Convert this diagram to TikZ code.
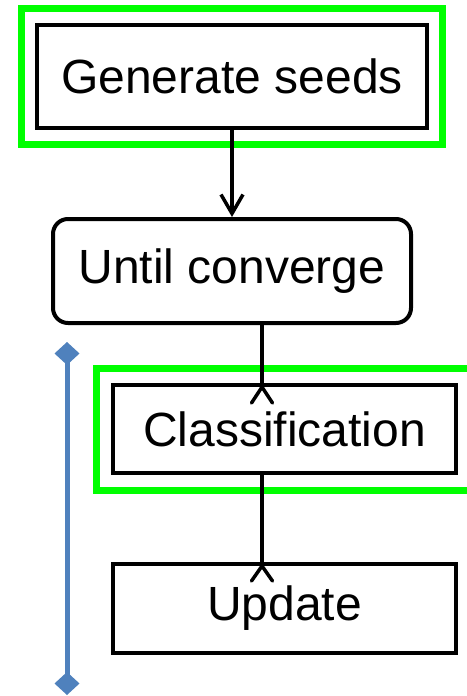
\documentclass[tikz,border=0pt]{standalone}
\usepackage{fontspec}
\setmainfont{Liberation Sans}
\usetikzlibrary{arrows, arrows.meta}
\usetikzlibrary{calc}

\definecolor{framegreen}{RGB}{0,255,0}
\definecolor{loopblue}{RGB}{79,129,189}

\tikzset{
  stepbox/.style={rectangle, draw, line width=4pt, inner sep=0pt,
    font=\fontsize{48}{54}\selectfont},
  greenframe/.style={rectangle, draw=framegreen, line width=7pt, inner sep=0pt},
  link/.style={line width=3.5pt},
  barb/.style={line width=3.5pt, line cap=round, line join=miter}
}

\begin{document}
\begin{tikzpicture}[x=1pt, y=-1pt]
    \useasboundingbox (0,0) rectangle (466,696);

    \node[greenframe, minimum width=421pt, minimum height=136pt] (genframe) at (232,76.5) {};
    \node[stepbox, minimum width=390pt, minimum height=103pt] (gen) at (232,76.5) {Generate seeds};
    \node[stepbox, rounded corners=15pt, minimum width=358pt, minimum height=104pt] (until) at (232,271) {Until converge};
    \node[greenframe, minimum width=378pt, minimum height=122pt] (clsframe) at (285,429) {};
    \node[stepbox, minimum width=343pt, minimum height=88pt] (cls) at (284.5,429) {Classification};
    \node[stepbox, minimum width=343pt, minimum height=89pt] (upd) at (284.5,608.5) {Update};

    \coordinate (mid) at (262,0);
    \coordinate (top) at (67,342);
    \coordinate (bottom) at (67,695);

    \draw[link, -{Straight Barb[length=19pt, width=22pt]}] (gen.south) -- (until.north);
    \draw[link] (until.south -| mid) -- (cls.north -| mid);
    \draw[link] (cls.south -| mid) -- (upd.north -| mid);

    \draw[barb] ($(cls.north -| mid)+(-10.5,20)$) -- ($(cls.north -| mid)+(0,4)$) -- ($(cls.north -| mid)+(10.5,20)$);
    \draw[barb] ($(upd.north -| mid)+(-10.5,19)$) -- ($(upd.north -| mid)+(0,4)$) -- ($(upd.north -| mid)+(10.5,19)$);

    \draw[loopblue, line width=5pt, {Diamond[length=23pt, width=25pt]}-{Diamond[length=23pt, width=25pt]}] (top) -- (bottom);
\end{tikzpicture}
\end{document}
